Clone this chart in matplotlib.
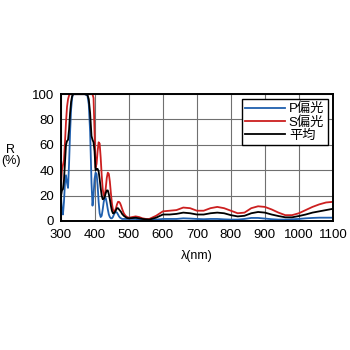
import matplotlib
matplotlib.use("Agg")
import matplotlib.pyplot as plt

plt.rcParams['font.family'] = ['Liberation Sans', 'Noto Sans CJK JP']

# wavelength (nm)
wl = [300, 303, 306, 309, 312, 315, 318, 321, 324, 327, 330, 333, 336, 340, 350, 360, 370,
      378, 382, 386, 390, 393, 396, 399, 402, 405, 408, 411, 414, 417, 420, 423, 426, 429,
      432, 435, 438, 441, 444, 447, 450, 453, 456, 459, 462, 465, 468, 471, 474, 477, 480,
      485, 490, 495, 500, 510, 520, 530, 540, 550, 560, 580, 600, 620, 640, 660, 680, 700,
      720, 740, 760, 780, 800, 820, 840, 860, 880, 900, 920, 940, 960, 980, 1000, 1020,
      1040, 1060, 1080, 1100]

# P polarisation (%)
r_p = [20, 8, 5, 15, 30, 36, 30, 26, 45, 70, 88, 97, 100, 100, 100, 100, 100,
       99, 92, 70, 30, 12, 20, 33, 38, 37, 28, 15, 6, 3, 4, 9, 15, 18,
       18, 14, 9, 5, 3, 2, 2, 3, 5, 6.5, 7, 6.5, 5, 3.5, 2.5, 2, 1.5,
       1.5, 1.5, 1.5, 1.5, 1.5, 1.5, 1, 1, 1, 0.5, 1, 1.5, 1.5, 1.5, 2, 1.8, 1.5,
       1.3, 1.5, 1.5, 1.2, 1, 1, 1.5, 2.3, 2.3, 1.8, 1.3, 1, 1, 1.2, 1.5, 2,
       2.3, 2.5, 2.5, 2.5]

# S polarisation (%)
r_s = [26, 40, 44, 48, 62, 78, 90, 96, 99, 100, 100, 100, 100, 100, 100, 100, 100,
       100, 100, 100, 100, 100, 97, 70, 42, 45, 55, 62, 61, 50, 36, 25, 20, 20,
       26, 34, 38, 37, 31, 22, 14, 9, 7.5, 8, 10, 13, 15, 15, 14, 12, 9.5,
       6, 4, 3, 2.5, 3, 3.5, 3, 2, 1.5, 1.5, 4, 7.5, 8, 8.5, 10.5, 10, 8,
       8, 10, 11, 10, 8, 6, 6.5, 10, 11.5, 11, 9, 6.5, 4.5, 4.5, 6, 8.5,
       11, 13, 14.5, 15]

# average (%)
r_avg = [19, 24, 25, 32, 46, 60, 63, 64, 72, 85, 94, 98.5, 100, 100, 100, 100, 100,
         99.5, 96, 85, 67, 64, 62, 55, 40, 41, 41, 39, 33, 26, 20, 17, 17.5, 19,
         22, 24, 24, 21, 17, 12, 8, 6, 6, 7, 8.5, 10, 10, 9, 8, 7, 5.5,
         4, 3, 2.2, 2, 2.2, 2.5, 2, 1.5, 1.2, 1, 2.5, 5, 5, 5.5, 6.5, 6, 5,
         5, 6, 6.5, 6, 4.5, 3.5, 4, 6, 7, 6.5, 5, 3.8, 2.8, 2.8, 3.8, 5,
         6.5, 7.5, 8.5, 9.5]

labels = ["P偏光", "S偏光", "平均"]
colors = ["#1f5fae", "#cc1f1f", "black"]

fig = plt.figure(figsize=(3.5, 3.5), dpi=100)
ax = fig.add_axes([0.174, 0.369, 0.777, 0.362])

for ys, lab, c in zip([r_p, r_s, r_avg], labels, colors):
    ax.plot(wl, ys, color=c, lw=1.3, label=lab)

ax.set_xlim(300, 1100)
ax.set_ylim(0, 100)
ax.set_xticks(range(300, 1101, 100))
ax.set_yticks(range(0, 101, 20))
ax.grid(True, color="#707070", lw=0.8)
ax.tick_params(length=0, labelsize=9.5)
ax.tick_params(axis="x", pad=6)
ax.tick_params(axis="y", pad=5)
for s in ax.spines.values():
    s.set_linewidth(1.4)

ax.set_xlabel("λ(nm)", fontsize=9, labelpad=6)
fig.text(0.03, 0.555, "R\n(%)", ha="center", va="center", fontsize=9, linespacing=0.9)

leg = ax.legend(loc="upper right", fontsize=9.5, frameon=True, fancybox=False,
                edgecolor="black", framealpha=1, borderpad=0.25, labelspacing=0.05,
                handlelength=3.0, handletextpad=0.3, borderaxespad=0.4)
leg.get_frame().set_linewidth(1.0)

fig.savefig("out.png", dpi=100)
